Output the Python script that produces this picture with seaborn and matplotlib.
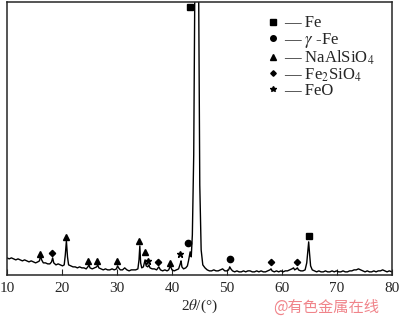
import numpy as np
import pandas as pd
import seaborn as sns
import matplotlib.pyplot as plt
from matplotlib.lines import Line2D

# XRD pattern (intensity in arbitrary units)
two_theta = [10.0, 10.4, 10.8, 11.2, 11.6, 12.0, 12.4, 12.8, 13.2, 13.6, 14.0, 14.4, 14.8, 15.2, 15.6, 15.9,
             16.1, 16.3, 16.6, 17.0, 17.4, 17.8, 18.1, 18.3, 18.5, 18.9, 19.3, 19.7, 20.1, 20.4, 20.6, 20.8,
             21.0, 21.2, 21.6, 22.0, 22.4, 22.8, 23.2, 23.6, 24.0, 24.4, 24.7, 24.9, 25.1, 25.5, 25.9, 26.3,
             26.5, 26.7, 27.1, 27.5, 27.9, 28.3, 28.7, 29.1, 29.5, 29.9, 30.1, 30.3, 30.6, 31.0, 31.4, 31.8,
             32.2, 32.6, 33.0, 33.4, 33.8, 34.0, 34.15, 34.3, 34.5, 34.8, 35.1, 35.3, 35.6, 35.8, 36.0, 36.4,
             36.8, 37.2, 37.6, 37.9, 38.3, 38.7, 39.1, 39.4, 39.7, 40.0, 40.4, 40.8, 41.2, 41.5, 41.65, 41.8,
             42.1, 42.5, 42.8, 43.0, 43.3, 43.5, 43.7, 43.95, 44.2, 44.5, 44.8, 45.05, 45.3, 45.6, 46.0, 46.4,
             46.8, 47.2, 47.6, 48.0, 48.4, 48.8, 49.2, 49.6, 50.0, 50.3, 50.5, 50.7, 51.0, 51.4, 51.8, 52.2,
             52.6, 53.0, 53.4, 53.8, 54.2, 54.6, 55.0, 55.4, 55.8, 56.2, 56.6, 57.0, 57.4, 57.8, 58.0, 58.2,
             58.6, 59.0, 59.4, 59.8, 60.2, 60.6, 61.0, 61.4, 61.8, 62.1, 62.3, 62.6, 62.8, 63.0, 63.4, 63.8,
             64.2, 64.5, 64.7, 64.85, 65.0, 65.2, 65.5, 65.9, 66.3, 66.7, 67.1, 67.5, 67.9, 68.3, 68.7, 69.1,
             69.5, 69.9, 70.3, 70.7, 71.1, 71.5, 71.9, 72.3, 72.7, 73.1, 73.5, 73.9, 74.3, 74.7, 75.1, 75.5,
             75.9, 76.3, 76.7, 77.1, 77.5, 77.9, 78.3, 78.7, 79.1, 79.5, 80.0]
intensity = [17, 16, 17, 16, 15, 16, 15, 14, 15, 14, 13, 14, 13, 12, 13, 14,
             19, 15, 12, 12, 11, 11, 13, 17, 12, 10, 11, 10, 9, 10, 20, 34,
             18, 10, 9, 8, 8, 7, 8, 7, 7, 6, 8, 10, 7, 6, 7, 8,
             10, 7, 6, 5, 6, 5, 5, 6, 5, 6, 9, 7, 5, 5, 7, 5,
             4, 5, 5, 5, 6, 15, 29, 12, 7, 8, 15, 9, 8, 10, 7, 6,
             6, 5, 8, 5, 4, 5, 4, 5, 9, 5, 4, 5, 6, 11, 14, 8,
             6, 7, 9, 14, 23, 18, 40, 120, 330, 520, 330, 90, 25, 10, 7, 5,
             4, 4, 5, 4, 4, 5, 6, 4, 4, 5, 8, 6, 4, 3, 4, 3,
             3, 4, 3, 4, 4, 3, 3, 4, 3, 4, 3, 3, 4, 5, 6, 4,
             3, 4, 3, 4, 3, 4, 4, 5, 6, 7, 5, 6, 7, 5, 4, 4,
             5, 12, 24, 33, 22, 9, 5, 4, 3, 4, 3, 3, 4, 3, 3, 4,
             3, 4, 3, 3, 4, 3, 3, 4, 4, 5, 5, 6, 5, 4, 3, 4,
             3, 3, 4, 3, 4, 4, 5, 4, 3, 4, 3]

# phase markers (position, height)
fe_x, fe_y = [43.3, 64.9], [268, 39]
gfe_x, gfe_y = [42.9, 50.5], [32, 16]
nas_x = [16.0, 20.7, 24.7, 26.4, 30.0, 34.0, 35.1, 39.6]
nas_y = [21, 38, 14, 14, 14, 34, 23, 12]
fs_x, fs_y = [18.2, 37.5, 58.0, 62.7], [22, 13, 13, 13]
feo_x, feo_y = [35.6, 41.5], [14, 21]

sns.set_style("ticks")
plt.rcParams['font.family'] = ['Liberation Serif', 'DejaVu Serif']
plt.rcParams['mathtext.fontset'] = 'stix'

fig = plt.figure(figsize=(4.0, 3.23), dpi=100)
ax = fig.add_axes([0.0175, 0.149, 0.9625, 0.845])

df = pd.DataFrame({'two_theta': two_theta, 'intensity': intensity})
sns.lineplot(data=df, x='two_theta', y='intensity', ax=ax, color='black', lw=1.0)

ax.plot(fe_x, fe_y, 's', color='black', ms=4.3)
ax.plot(gfe_x, gfe_y, 'o', color='black', ms=4.5)
ax.plot(nas_x, nas_y, '^', color='black', ms=4.8)
ax.plot(fs_x, fs_y, 'D', color='black', ms=3.2)
ax.plot(feo_x, feo_y, '*', color='black', ms=5)

ax.set_xlim(10, 80)
ax.set_ylim(0, 273)
ax.set_xticks(range(10, 81, 10))
ax.set_yticks([])
ax.tick_params(axis='x', direction='in', length=4, labelsize=11, pad=5)
ax.set_xlabel(r'2$\theta$/(°)', fontsize=11, labelpad=2)
ax.set_ylabel('')
for s in ax.spines.values():
    s.set_linewidth(1.1)

handles = [Line2D([], [], ls='none', marker='s', color='black', ms=3.8),
           Line2D([], [], ls='none', marker='o', color='black', ms=4),
           Line2D([], [], ls='none', marker='^', color='black', ms=4.3),
           Line2D([], [], ls='none', marker='D', color='black', ms=2.8),
           Line2D([], [], ls='none', marker='*', color='black', ms=4.3)]
labels = ['— Fe', r'— $\gamma$ -Fe', r'— NaAlSiO$_4$', r'— Fe$_2$SiO$_4$', '— FeO']
ax.legend(handles, labels, loc='upper left', bbox_to_anchor=(0.66, 0.975), frameon=False,
          fontsize=12, handlelength=0.6, handletextpad=0.4, labelspacing=-0.05, borderaxespad=0)

fig.text(0.815, 0.05, '@有色金属在线', color='#f0848a', fontsize=11,
         family=['Noto Sans CJK SC', 'DejaVu Sans'], ha='center', va='center')

fig.savefig('out.png', dpi=100)
